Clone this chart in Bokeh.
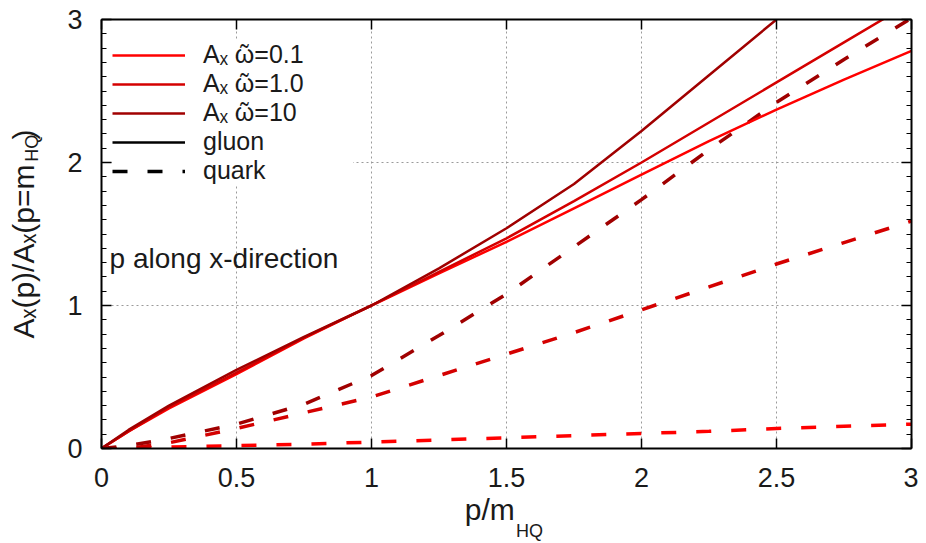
import json
from bokeh.plotting import figure
from bokeh.models import (Range1d, LinearAxis, FixedTicker, Label, Legend,
                          LegendItem, NumeralTickFormatter, CustomJSTickFormatter)
from bokeh.embed import file_html
from bokeh.resources import INLINE

# ---------------- data ----------------
p_over_m = [0, 0.1, 0.25, 0.5, 0.75, 1.0, 1.25, 1.5, 1.75, 2.0, 2.25, 2.5, 2.75, 3.0]

gluon_w01 = [0, 0.12, 0.28, 0.52, 0.77, 1.0, 1.225, 1.445, 1.68, 1.915, 2.15, 2.37, 2.58, 2.78]
gluon_w1 = [0, 0.12, 0.29, 0.53, 0.775, 1.0, 1.235, 1.47, 1.73, 2.0, 2.28, 2.56, 2.84, 3.12]
gluon_w10_x = [0, 0.1, 0.25, 0.5, 0.75, 1.0, 1.25, 1.5, 1.75, 2.0, 2.25, 2.5]
gluon_w10 = [0, 0.13, 0.30, 0.55, 0.78, 1.0, 1.26, 1.54, 1.85, 2.22, 2.61, 3.0]

quark_w01 = [0, 0.0, 0.01, 0.02, 0.03, 0.045, 0.06, 0.075, 0.09, 0.105, 0.12, 0.14, 0.155, 0.17]
quark_w1 = [0, 0.0, 0.04, 0.14, 0.25, 0.36, 0.51, 0.66, 0.81, 0.97, 1.13, 1.29, 1.44, 1.59]
quark_w10 = [0, 0.02, 0.07, 0.17, 0.31, 0.51, 0.79, 1.08, 1.41, 1.74, 2.09, 2.42, 2.72, 3.01]

x_ticks = [0, 0.5, 1, 1.5, 2, 2.5, 3]
y_ticks = [0, 1, 2, 3]
x_grid = [0.5, 1, 1.5, 2, 2.5]
y_grid = [1, 2]
legend_labels = ["A\u2093 \u1ff6=0.1", "A\u2093 \u1ff6=1.0", "A\u2093 \u1ff6=10",
                 "gluon", "quark"]
annotation_text = "p along x-direction"
NB = "\u00a0"
x_title = "p/m" + NB * 4          # subscript "HQ" is set into the gap
y_title = "A\u2093(p)/A\u2093(p=m" + NB * 3 + ")"
title_sub = "HQ"
x_sub_at = 1.585                  # where the subscript sits along each axis
y_sub_at = 2.10

# ---------------- style ----------------
FONT = "Liberation Sans"
TXT = "#1a1a1a"
C01, C1, C10 = "#ff0000", "#d40000", "#a00000"
DASH = "15 20"
NAN = float("nan")

p = figure(width=918, height=543, x_range=Range1d(0, 3), y_range=Range1d(0, 3),
           output_backend="svg", toolbar_location=None,
           min_border_left=101, min_border_right=7, min_border_top=19, min_border_bottom=95)
p.outline_line_color = None
p.background_fill_color = "white"
p.border_fill_color = "white"

bottom = p.below[0]
left = p.left[0]
top = LinearAxis()
right = LinearAxis()
p.add_layout(top, "above")
p.add_layout(right, "right")

minor_y = [i / 10 for i in range(31)]
for ax in (bottom, top):
    ax.ticker = FixedTicker(ticks=x_ticks, minor_ticks=[])
for ax in (left, right):
    ax.ticker = FixedTicker(ticks=y_ticks, minor_ticks=minor_y)

for ax in (bottom, top, left, right):
    ax.formatter = NumeralTickFormatter(format="0.[0]")
    ax.axis_line_color = "black"
    ax.axis_line_width = 2
    ax.major_tick_in = 10
    ax.major_tick_out = 0
    ax.major_tick_line_color = "black"
    ax.major_tick_line_width = 1.5
    ax.minor_tick_in = 5
    ax.minor_tick_out = 0
    ax.minor_tick_line_color = "black"
    ax.minor_tick_line_width = 1.2
    ax.major_label_text_font = FONT
    ax.major_label_text_font_size = "27px"
    ax.major_label_text_color = TXT

for ax in (top, right):
    ax.formatter = CustomJSTickFormatter(code="return ''")
    ax.major_label_text_font_size = "1px"
    ax.major_label_standoff = 0

bottom.major_label_standoff = 19
left.major_label_standoff = 19

# main x title on the bottom axis
bottom.axis_label = x_title
bottom.axis_label_standoff = 3
bottom.axis_label_text_font = FONT
bottom.axis_label_text_font_size = "30px"
bottom.axis_label_text_font_style = "normal"
bottom.axis_label_text_color = TXT


def sub_axis(at, size, standoff, orient):
    ax = LinearAxis(ticker=FixedTicker(ticks=[at], minor_ticks=[]),
                    formatter=CustomJSTickFormatter(code="return %s" % json.dumps(title_sub)))
    ax.axis_line_color = None
    ax.major_tick_in = 0
    ax.major_tick_out = 0
    ax.minor_tick_in = 0
    ax.minor_tick_out = 0
    ax.major_label_text_font = FONT
    ax.major_label_text_font_size = size
    ax.major_label_text_color = TXT
    ax.major_label_standoff = standoff
    ax.major_label_orientation = orient
    return ax


# subscript of the x title, one row below the main x title
xs = sub_axis(x_sub_at, "18px", -8, "horizontal")
p.add_layout(xs, "below")

# y title: subscript as tick label, main text as this axis' label
ys = sub_axis(y_sub_at, "18px", 22, "parallel")
ys.axis_label = y_title
ys.axis_label_standoff = -20
ys.axis_label_text_font = FONT
ys.axis_label_text_font_size = "30px"
ys.axis_label_text_font_style = "normal"
ys.axis_label_text_color = TXT
p.add_layout(ys, "left")

p.xgrid.ticker = FixedTicker(ticks=x_grid)
p.ygrid.ticker = FixedTicker(ticks=y_grid)
for g in (p.xgrid[0], p.ygrid[0]):
    g.grid_line_color = "#9a9a9a"
    g.grid_line_dash = "2 3"
    g.grid_line_width = 1

# ---------------- curves ----------------
p.line(p_over_m, quark_w01, color=C01, line_width=3.5, line_dash=DASH)
p.line(p_over_m, quark_w1, color=C1, line_width=3.5, line_dash=DASH)
p.line(p_over_m, quark_w10, color=C10, line_width=3.5, line_dash=DASH)
r01 = p.line(p_over_m, gluon_w01, color=C01, line_width=2.5)
r1 = p.line(p_over_m, gluon_w1, color=C1, line_width=2.5)
r10 = p.line(gluon_w10_x, gluon_w10, color=C10, line_width=2.5)
rg = p.line([NAN], [NAN], color="black", line_width=2.5)
rq = p.line([NAN], [NAN], color="black", line_width=3.5, line_dash=DASH)

legend = Legend(items=[LegendItem(label=lab, renderers=[r])
                       for lab, r in zip(legend_labels, [r01, r1, r10, rg, rq])],
                location=(11, 263), margin=0, padding=5, spacing=0,
                glyph_width=73, glyph_height=20, label_height=20, label_width=150,
                label_standoff=18,
                label_text_font=FONT, label_text_font_size="25px", label_text_color=TXT,
                background_fill_color="white", background_fill_alpha=1.0,
                border_line_color=None)
p.add_layout(legend)

p.add_layout(Label(x=0.03, y=1.33, text=annotation_text, text_font=FONT,
                   text_font_size="28px", text_color=TXT,
                   text_align="left", text_baseline="alphabetic"))

open("out.html", "w").write(file_html(p, INLINE))
